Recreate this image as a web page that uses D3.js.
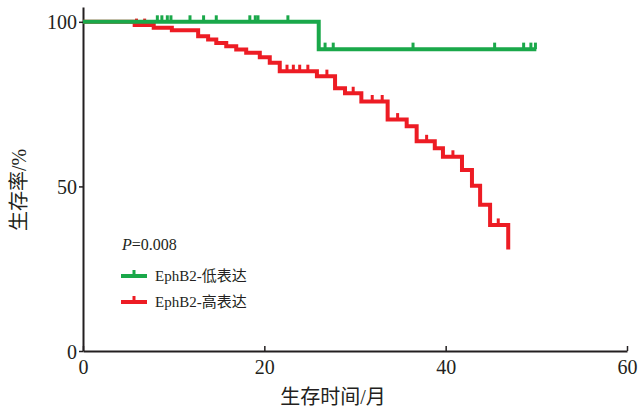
<!DOCTYPE html>
<html>
<head>
<meta charset="utf-8">
<script src="https://cdn.jsdelivr.net/npm/d3@7"></script>
<style>
  body { margin: 0; background: #fff; }
  text { font-family: "Liberation Serif", "Noto Sans CJK SC", serif; fill: #231f20; }
</style>
</head>
<body>
<div id="chart"></div>
<script>
// survival curves (months, %)
var lowTimes = [0, 26.0, 50.0];
var lowSurv = [100, 91.7, 91.7];
var lowCensor = [8.2, 8.7, 9.3, 9.7, 11.8, 13.3, 14.7, 18.4, 19.0, 19.3, 22.6, 26.7, 27.6, 36.4, 45.4, 48.6, 49.4, 49.9];

var highTimes = [0, 5.7, 7.8, 9.8, 12.7, 13.8, 14.7, 15.8, 16.9, 18.0, 19.5, 20.6, 21.7, 25.8, 27.8, 28.9, 30.7, 33.6, 35.7, 36.8, 38.8, 39.7, 41.8, 42.9, 43.8, 44.9, 46.9];
var highSurv = [100, 99.0, 98.2, 97.4, 95.6, 94.6, 93.6, 92.6, 91.6, 90.6, 89.2, 87.6, 85.0, 83.5, 79.8, 78.3, 75.8, 70.3, 68.3, 63.7, 61.6, 59.0, 55.0, 50.2, 44.4, 38.3, 30.8];
var highCensor = [5.9, 6.8, 22.5, 23.2, 23.9, 24.8, 26.9, 29.8, 31.9, 33.0, 34.7, 37.9, 40.8, 45.8];

var xTicks = [0, 20, 40, 60];
var yTicks = [0, 50, 100];
var seriesNames = ["EphB2-低表达", "EphB2-高表达"];
var colors = ["#1aa84a", "#ed1c24"];

var svg = d3.select("#chart")
    .append("svg")
    .attr("width", 638)
    .attr("height", 409);

var x = d3.scaleLinear().domain([0, 60]).range([83, 627]);
var y = d3.scaleLinear().domain([0, 104.5]).range([351, 7]);

// axes
var xAxis = svg.append("g")
    .attr("transform", "translate(0,351)")
    .call(d3.axisBottom(x).tickValues(xTicks).tickSizeInner(-5).tickSizeOuter(0).tickPadding(9));
xAxis.selectAll("text").style("font-size", "20px");

var yAxis = svg.append("g")
    .attr("transform", "translate(83,0)")
    .call(d3.axisLeft(y).tickValues(yTicks).tickSizeInner(4).tickSizeOuter(0).tickPadding(2));
yAxis.selectAll("text").style("font-size", "20px").attr("dy", "0.35em");

svg.selectAll(".domain").attr("stroke", "#231f20").attr("stroke-width", 2);
svg.selectAll(".tick line").attr("stroke", "#231f20").attr("stroke-width", 1.5);
svg.selectAll(".tick text").attr("fill", "#231f20");

svg.append("text")
    .attr("x", 333).attr("y", 404)
    .attr("text-anchor", "middle")
    .style("font-size", "20px")
    .text("生存时间/月");

svg.append("text")
    .attr("transform", "translate(26,190) rotate(-90)")
    .attr("text-anchor", "middle")
    .style("font-size", "20px")
    .text("生存率/%");

function stepAt(times, surv, t) {
  var i = d3.bisectRight(times, t) - 1;
  return surv[Math.max(0, i)];
}

var line = d3.line()
    .x(function(d) { return x(d[0]); })
    .y(function(d) { return y(d[1]); })
    .curve(d3.curveStepAfter);

function drawCurve(times, surv, censor, color) {
  var pts = times.map(function(t, i) { return [t, surv[i]]; });
  svg.append("path")
      .datum(pts)
      .attr("d", line)
      .attr("fill", "none")
      .attr("stroke", color)
      .attr("stroke-width", 4)
      .attr("stroke-linejoin", "miter");
  svg.selectAll(null)
      .data(censor)
      .enter().append("line")
      .attr("x1", function(d) { return x(d); })
      .attr("x2", function(d) { return x(d); })
      .attr("y1", function(d) { return y(stepAt(times, surv, d)); })
      .attr("y2", function(d) { return y(stepAt(times, surv, d)) - 6.5; })
      .attr("stroke", color)
      .attr("stroke-width", 3);
}

drawCurve(highTimes, highSurv, highCensor, colors[1]);
drawCurve(lowTimes, lowSurv, lowCensor, colors[0]);

// legend
var pText = svg.append("text")
    .attr("x", 122).attr("y", 250)
    .style("font-size", "16px");
pText.append("tspan").style("font-style", "italic").text("P");
pText.append("tspan").text("=0.008");

seriesNames.forEach(function(name, i) {
  var ly = 276 + i * 26;
  svg.append("line")
      .attr("x1", 121).attr("x2", 147)
      .attr("y1", ly).attr("y2", ly)
      .attr("stroke", colors[i]).attr("stroke-width", 4);
  svg.append("line")
      .attr("x1", 134).attr("x2", 134)
      .attr("y1", ly).attr("y2", ly - 6)
      .attr("stroke", colors[i]).attr("stroke-width", 3);
  svg.append("text")
      .attr("x", 155).attr("y", ly + 5)
      .style("font-size", "15px")
      .text(name);
});
</script>
</body>
</html>
